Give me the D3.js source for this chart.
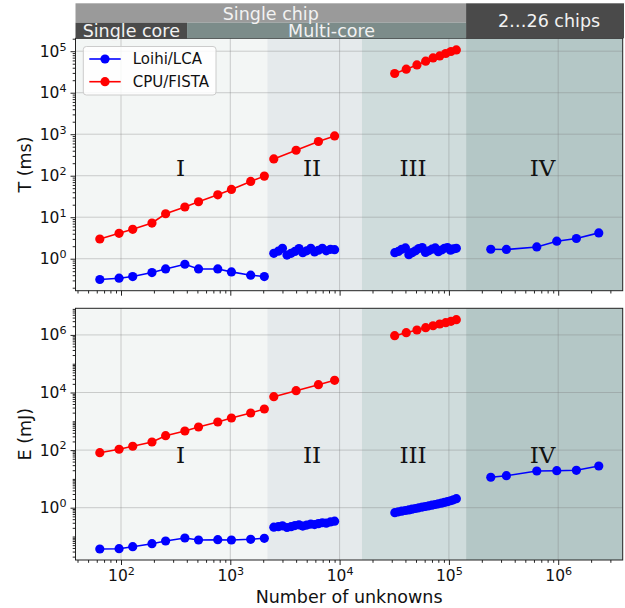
<!DOCTYPE html>
<html><head><meta charset="utf-8">
<script src="https://cdn.jsdelivr.net/npm/d3@7"></script>
<style>body{margin:0;background:#fff}svg{font-family:"DejaVu Sans",sans-serif}</style>
</head><body><svg id="c" width="625" height="608"></svg>
<script>
// ---------- data ----------
const nI = [64,96,128,192,256,384,512,768,1024,1536,2048];
const cpuT_I = [2.98,4.09,5.1,7.24,12.1,17.6,23.6,34.7,46.8,72.9,97.7];
const loihiT_I = [0.315,0.339,0.372,0.464,0.567,0.736,0.567,0.567,0.481,0.400,0.372];
const cpuE_I = [81.3,107,136,191,316,460,634,946,1303,1941,2673];
const loihiE_I = [0.0368,0.0377,0.0443,0.0562,0.0698,0.0887,0.0755,0.0774,0.0755,0.080,0.0865];

const cpuN_II = [2500,4000,6400,9000];
const cpuT_II = [254,411,667,910];
const cpuE_II = [7145,11560,18660,26540];
const loihiN_II = [2500,2750,3000,3300,3600,3900,4250,4600,5000,5450,5900,6400,6950,7550,8250,9000];
const loihiT_II = [1.35,1.52,1.78,1.22,1.35,1.50,1.75,1.40,1.55,1.78,1.45,1.60,1.78,1.55,1.68,1.65];
const loihiE_II = [0.21,0.22,0.235,0.205,0.22,0.24,0.255,0.23,0.25,0.27,0.26,0.28,0.30,0.29,0.32,0.34];

const cpuN_III = [31900,40700,51000,61300,71600,82400,93500,104500,116900];
const cpuT_III = [29000,36800,46800,57400,69000,77100,88100,98400,107400];
const cpuE_III = [937000,1191000,1479000,1778000,2084000,2388000,2655000,2965000,3373000];
const loihiN_III = [32000,34500,37000,40000,43000,46000,49500,53000,57000,61000,65500,70000,75000,80000,85500,91000,97000,103500,110000,117000];
const loihiT_III = [1.40,1.50,1.68,1.82,1.25,1.40,1.55,1.75,1.85,1.42,1.55,1.70,1.82,1.48,1.62,1.78,1.85,1.60,1.72,1.78];
const loihiE_III = [0.67,0.72,0.76,0.80,0.84,0.89,0.94,0.99,1.05,1.10,1.16,1.22,1.29,1.36,1.44,1.52,1.62,1.74,1.88,2.05];

const loihiN_IV = [241600,335700,636800,970000,1466000,2350000];
const loihiT_IV = [1.69,1.67,1.92,2.64,3.07,4.19];
const loihiE_IV = [11.4,12.9,18.8,19.3,19.9,28.1];

const regionBounds = [2180, 16000, 143600];
const regionNames = ["I","II","III","IV"];
const regionLabelN = [350, 5600, 47000, 720000];
const regionLabelT = 150;
const regionLabelE = 70;
const singleCoreEnd = 402;
const xTickVals = [1e2,1e3,1e4,1e5,1e6];
const topTickVals = [1e0,1e1,1e2,1e3,1e4,1e5];
const botTickVals = [1e0,1e2,1e4,1e6];
const seriesNames = ["Loihi/LCA","CPU/FISTA"];
const seriesColors = ["#0000ff","#ff0000"];

// ---------- layout ----------
const L = 75.5, R = 622.7;
const topP = {t:38.3, b:290.7, dom:[Math.pow(10,-0.771), Math.pow(10,5.311)]};
const botP = {t:308.3, b:560, dom:[Math.pow(10,-1.816), Math.pow(10,6.924)]};
const x = d3.scaleLog().domain([Math.pow(10,1.5837), Math.pow(10,6.590)]).range([L,R]);
const svg = d3.select("#c");
const regColors = ["#f3f6f5","#e5eaec","#cfdcdc","#b4c7c6"];

function zip(a,b){ return a.map((v,i)=>[v,b[i]]); }

function supLabel(sel){
  sel.each(function(d){
    const t = d3.select(this); const e = Math.round(Math.log10(d));
    t.text(null);
    t.append("tspan").text("10");
    t.append("tspan").attr("dy","-0.55em").attr("font-size","0.72em").text(e);
  });
}

function minorVals(lo, hi, skip){
  const out=[];
  for(let k=Math.floor(Math.log10(lo)); k<=Math.ceil(Math.log10(hi)); k++){
    for(let m=1;m<10;m++){
      const v=m*Math.pow(10,k);
      if(v<lo||v>hi) continue;
      if(m===1 && skip.includes(v)) continue;
      out.push(v);
    }
  }
  return out;
}

function panel(P, yTicks, segs, labelY, ylab, showX){
  const y = d3.scaleLog().domain(P.dom).range([P.b,P.t]);
  const g = svg.append("g");
  const xd = x.domain();
  const edges = [xd[0], ...regionBounds, xd[1]];
  for(let i=0;i<4;i++){
    g.append("rect").attr("x",x(edges[i])).attr("y",P.t).attr("width",x(edges[i+1])-x(edges[i]))
      .attr("height",P.b-P.t).attr("fill",regColors[i]);
  }
  // grid
  const gg = g.append("g").attr("stroke","#7a7a7a").attr("stroke-opacity",0.35).attr("stroke-width",1);
  xTickVals.forEach(v=>gg.append("line").attr("x1",x(v)).attr("x2",x(v)).attr("y1",P.t).attr("y2",P.b));
  yTicks.forEach(v=>gg.append("line").attr("x1",L).attr("x2",R).attr("y1",y(v)).attr("y2",y(v)));
  // region labels
  regionNames.forEach((nm,i)=>{
    g.append("text").attr("x",x(regionLabelN[i])).attr("y",y(labelY)).attr("text-anchor","middle")
      .attr("dominant-baseline","central").attr("font-family","DejaVu Serif").attr("font-size",23)
      .attr("fill","#111").text(nm);
  });
  // lines
  const line = d3.line().x(d=>x(d[0])).y(d=>y(d[1]));
  segs.forEach(s=>{
    g.append("path").datum(s.pts).attr("d",line).attr("fill","none").attr("stroke",s.c).attr("stroke-width",1.6);
    g.selectAll(null).data(s.pts).enter().append("circle").attr("cx",d=>x(d[0])).attr("cy",d=>y(d[1]))
      .attr("r",4.6).attr("fill",s.c);
  });
  // frame
  g.append("rect").attr("x",L).attr("y",P.t).attr("width",R-L).attr("height",P.b-P.t)
    .attr("fill","none").attr("stroke","#222").attr("stroke-width",1);
  // axes
  const ya = g.append("g").attr("transform",`translate(${L},0)`)
    .call(d3.axisLeft(y).tickValues(yTicks).tickSize(5).tickPadding(4).tickFormat(()=>""));
  ya.selectAll("text").call(supLabel).attr("font-size",15.5).attr("font-family","DejaVu Sans").attr("fill","#111");
  g.append("g").attr("transform",`translate(${L},0)`)
    .call(d3.axisLeft(y).tickValues(minorVals(P.dom[0],P.dom[1],yTicks)).tickSize(2.8).tickFormat(""));
  const xa = g.append("g").attr("transform",`translate(0,${P.b})`)
    .call(d3.axisBottom(x).tickValues(xTickVals).tickSize(5).tickPadding(5).tickFormat(()=>""));
  if(showX) xa.selectAll("text").call(supLabel).attr("font-size",15.5).attr("font-family","DejaVu Sans").attr("fill","#111");
  else xa.selectAll("text").remove();
  g.append("g").attr("transform",`translate(0,${P.b})`)
    .call(d3.axisBottom(x).tickValues(minorVals(xd[0],xd[1],xTickVals)).tickSize(2.8).tickFormat(""));
  g.selectAll(".domain").remove();
  g.selectAll(".tick line").attr("stroke","#222");
  g.append("text").attr("transform",`translate(25,${(P.t+P.b)/2}) rotate(-90)`).attr("text-anchor","middle")
    .attr("dominant-baseline","central").attr("font-size",17.5).attr("fill","#111").text(ylab);
  return g;
}

const tp = panel(topP, topTickVals, [
  {pts:zip(nI,cpuT_I), c:seriesColors[1]},
  {pts:zip(nI,loihiT_I), c:seriesColors[0]},
  {pts:zip(cpuN_II,cpuT_II), c:seriesColors[1]},
  {pts:zip(loihiN_II,loihiT_II), c:seriesColors[0]},
  {pts:zip(cpuN_III,cpuT_III), c:seriesColors[1]},
  {pts:zip(loihiN_III,loihiT_III), c:seriesColors[0]},
  {pts:zip(loihiN_IV,loihiT_IV), c:seriesColors[0]}
], regionLabelT, "T (ms)", false);

panel(botP, botTickVals, [
  {pts:zip(nI,cpuE_I), c:seriesColors[1]},
  {pts:zip(nI,loihiE_I), c:seriesColors[0]},
  {pts:zip(cpuN_II,cpuE_II), c:seriesColors[1]},
  {pts:zip(loihiN_II,loihiE_II), c:seriesColors[0]},
  {pts:zip(cpuN_III,cpuE_III), c:seriesColors[1]},
  {pts:zip(loihiN_III,loihiE_III), c:seriesColors[0]},
  {pts:zip(loihiN_IV,loihiE_IV), c:seriesColors[0]}
], regionLabelE, "E (mJ)", true);

svg.append("text").attr("x",(L+R)/2).attr("y",603).attr("text-anchor","middle")
  .attr("font-size",17.5).attr("fill","#111").text("Number of unknowns");

// legend
const lg = tp.append("g");
lg.append("rect").attr("x",83.3).attr("y",46.5).attr("width",132.7).attr("height",48.5).attr("rx",3)
  .attr("fill","#fff").attr("fill-opacity",0.85).attr("stroke","#cccccc");
seriesNames.forEach((nm,i)=>{
  const yy = 59 + i*22.7;
  lg.append("line").attr("x1",89.3).attr("x2",120.7).attr("y1",yy).attr("y2",yy).attr("stroke",seriesColors[i]).attr("stroke-width",1.6);
  lg.append("circle").attr("cx",105).attr("cy",yy).attr("r",4.6).attr("fill",seriesColors[i]);
  lg.append("text").attr("x",132.7).attr("y",yy).attr("dominant-baseline","central").attr("font-size",15).attr("fill","#111").text(nm);
});

// header
const hT = 3.3, hM = 22.7, hB = 38.3, hR = 624;
const hd = svg.append("g");
hd.append("rect").attr("x",L).attr("y",hT).attr("width",x(regionBounds[2])-L).attr("height",hM-hT).attr("fill","#9a9a9a");
hd.append("rect").attr("x",L).attr("y",hM).attr("width",x(singleCoreEnd)-L).attr("height",hB-hM).attr("fill","#4a4a4a");
hd.append("rect").attr("x",x(singleCoreEnd)).attr("y",hM).attr("width",x(regionBounds[2])-x(singleCoreEnd)).attr("height",hB-hM).attr("fill","#7c8c8a");
hd.append("rect").attr("x",x(regionBounds[2])).attr("y",hT).attr("width",hR-x(regionBounds[2])).attr("height",hB-hT).attr("fill","#4a4a4a");
const ht = (tx,xx,yy)=>hd.append("text").attr("x",xx).attr("y",yy).attr("text-anchor","middle")
  .attr("dominant-baseline","central").attr("font-size",17.5).attr("fill","#f2f2f2").text(tx);
ht("Single chip",(L+x(regionBounds[2]))/2,(hT+hM)/2+0.5);
ht("Single core",(L+x(singleCoreEnd))/2,(hM+hB)/2);
ht("Multi-core",(x(singleCoreEnd)+x(regionBounds[2]))/2+5,(hM+hB)/2);
ht("2…26 chips",(x(regionBounds[2])+hR)/2+4,(hT+hB)/2);
</script></body></html>
